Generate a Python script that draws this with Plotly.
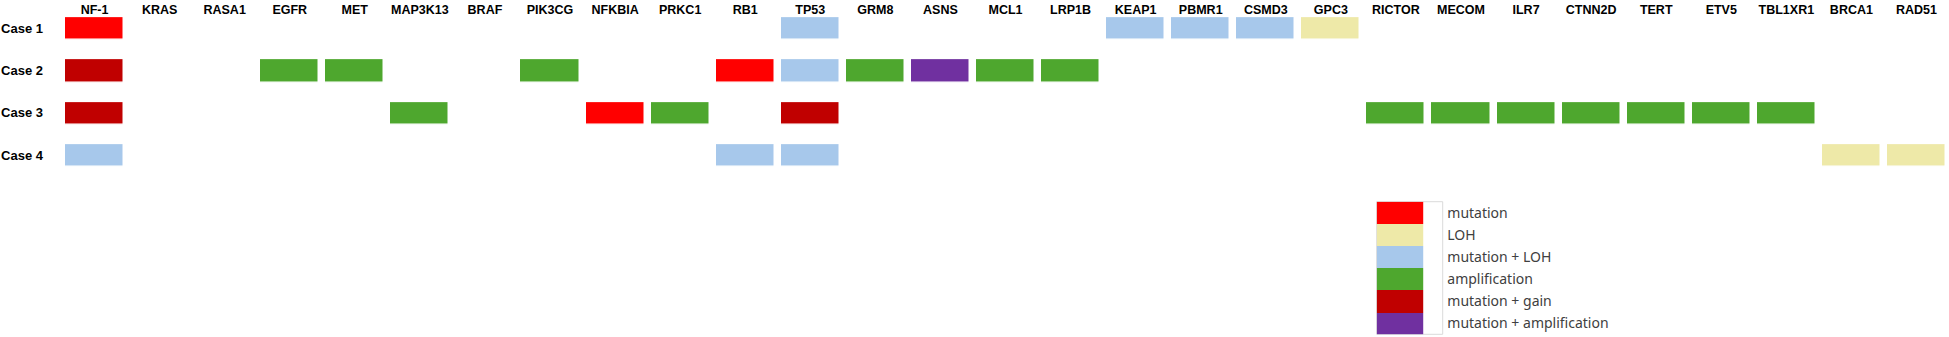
import plotly.graph_objects as go

genes = ["NF-1", "KRAS", "RASA1", "EGFR", "MET", "MAP3K13", "BRAF", "PIK3CG", "NFKBIA",
         "PRKC1", "RB1", "TP53", "GRM8", "ASNS", "MCL1", "LRP1B", "KEAP1", "PBMR1",
         "CSMD3", "GPC3", "RICTOR", "MECOM", "ILR7", "CTNN2D", "TERT", "ETV5",
         "TBL1XR1", "BRCA1", "RAD51"]
cases = ["Case 1", "Case 2", "Case 3", "Case 4"]
categories = ["mutation", "LOH", "mutation + LOH", "amplification",
              "mutation + gain", "mutation + amplification"]
category_colors = ["#FF0000", "#EEE9A8", "#A7C8EB", "#4EA72E", "#C00000", "#7030A0"]

case1 = {"NF-1": "mutation", "TP53": "mutation + LOH", "KEAP1": "mutation + LOH",
         "PBMR1": "mutation + LOH", "CSMD3": "mutation + LOH", "GPC3": "LOH"}
case2 = {"NF-1": "mutation + gain", "EGFR": "amplification", "MET": "amplification",
         "PIK3CG": "amplification", "RB1": "mutation", "TP53": "mutation + LOH",
         "GRM8": "amplification", "ASNS": "mutation + amplification",
         "MCL1": "amplification", "LRP1B": "amplification"}
case3 = {"NF-1": "mutation + gain", "MAP3K13": "amplification", "NFKBIA": "mutation",
         "PRKC1": "amplification", "TP53": "mutation + gain", "RICTOR": "amplification",
         "MECOM": "amplification", "ILR7": "amplification", "CTNN2D": "amplification",
         "TERT": "amplification", "ETV5": "amplification", "TBL1XR1": "amplification"}
case4 = {"NF-1": "mutation + LOH", "RB1": "mutation + LOH", "TP53": "mutation + LOH",
         "BRCA1": "LOH", "RAD51": "LOH"}
case_data = [case1, case2, case3, case4]

n = len(categories)
colorscale = []
for i, c in enumerate(category_colors):
    colorscale.append([i / n, c])
    colorscale.append([(i + 1) / n, c])

z = [[categories.index(d[g]) if g in d else None for g in genes] for d in case_data]
text = [[d.get(g, "") for g in genes] for d in case_data]

W, H = 1949, 337
fig = go.Figure()
fig.add_trace(go.Heatmap(
    x=genes, y=cases, z=z, text=text, colorscale=colorscale, zmin=-0.5, zmax=n - 0.5,
    showscale=False, xgap=7.5, ygap=20.6, hovertemplate="%{y} %{x}: %{text}<extra></extra>",
    xaxis="x", yaxis="y"))

fig.add_trace(go.Heatmap(
    x=["legend"], y=categories, z=[[i] for i in range(n)], colorscale=colorscale,
    zmin=-0.5, zmax=n - 0.5, showscale=False, xaxis="x2", yaxis="y2",
    hovertemplate="%{y}<extra></extra>"))

plot_left = 62
plot_bottom = 176.4
leg_l, leg_r, leg_wr = 1376.7, 1423.3, 1442.7
leg_top, leg_bot = 201.7, 334.3

fig.update_layout(
    width=W, height=H, margin=dict(l=0, r=0, t=0, b=0),
    paper_bgcolor="white", plot_bgcolor="white", showlegend=False,
    xaxis=dict(domain=[plot_left / W, 1.0], side="top", ticklabelposition="inside",
               ticklabelstandoff=2,
               showgrid=False, zeroline=False, showline=False, ticks="",
               tickfont=dict(family="Liberation Sans", size=12.5, color="black", weight="bold"),
               anchor="y", fixedrange=True),
    yaxis=dict(domain=[1 - plot_bottom / H, 1.0], range=[3.5, -0.667],
               showgrid=False, zeroline=False, showline=False, ticks="",
               ticklabelstandoff=18,
               tickfont=dict(family="Liberation Sans", size=13, color="black", weight="bold"),
               anchor="x", fixedrange=True),
    xaxis2=dict(domain=[leg_l / W, leg_r / W], showticklabels=False, showgrid=False,
                zeroline=False, showline=False, ticks="", anchor="y2", fixedrange=True),
    yaxis2=dict(domain=[1 - leg_bot / H, 1 - leg_top / H], autorange="reversed",
                side="right", showgrid=False, zeroline=False, showline=False, ticks="",
                ticklabelstandoff=23,
                tickfont=dict(family="Noto Sans", size=14, color="#404040"),
                anchor="x2", fixedrange=True),
    shapes=[dict(type="rect", xref="paper", yref="paper",
                 x0=leg_l / W, x1=leg_wr / W, y0=1 - leg_bot / H, y1=1 - leg_top / H,
                 line=dict(color="#DADADA", width=1), fillcolor="rgba(0,0,0,0)",
                 layer="below")],
)

fig.write_html("out.html", config={"displayModeBar": False},
               post_script="document.body.style.margin='0';document.body.style.overflow='hidden';")
